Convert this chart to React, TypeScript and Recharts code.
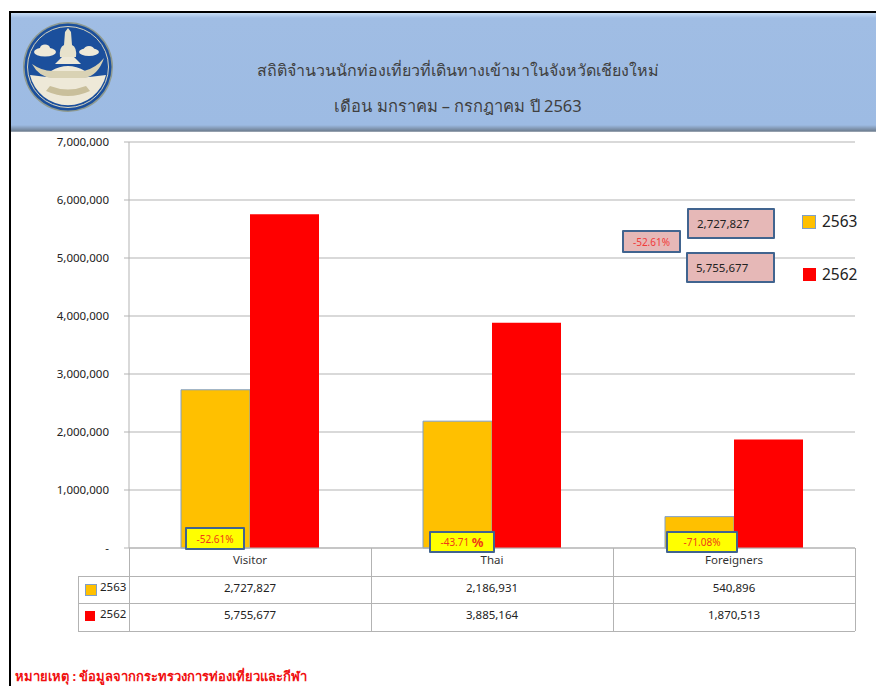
import type { CSSProperties } from 'react';
import { Bar, BarChart, CartesianGrid, XAxis, YAxis } from 'recharts';

const categories = ['Visitor', 'Thai', 'Foreigners'];
const values2563 = [2727827, 2186931, 540896];
const values2562 = [5755677, 3885164, 1870513];
const yTicks = [0, 1000000, 2000000, 3000000, 4000000, 5000000, 6000000, 7000000];
const changes = ['-52.61%', '-43.71', '-71.08%'];
const seriesNames = ['2563', '2562'];
const title = 'สถิติจำนวนนักท่องเที่ยวที่เดินทางเข้ามาในจังหวัดเชียงใหม่';
const subtitle = 'เดือน มกราคม – กรกฎาคม ปี 2563';
const footnote = 'หมายเหตุ : ข้อมูลจากกระทรวงการท่องเที่ยวและกีฬา';

const FONT = '"Noto Sans", "Open Sans", sans-serif';
const COLORS = ['#FFC000', '#FF0000'];
const LINE = '#b3b3b3';
const BOX_EDGE = '#41648f';

const chartData = categories.map((name, i) => ({
  name,
  y2563: values2563[i],
  y2562: values2562[i],
}));

const fmt = (v: number) => v.toLocaleString('en-US');

function Box(props: { x: number; y: number; w: number; h: number; bg: string; color: string; size?: number; children: React.ReactNode; align?: CSSProperties['justifyContent']; pad?: number }) {
  const { x, y, w, h, bg, color, size = 10, children, align = 'center', pad = 0 } = props;
  return (
    <div
      style={{
        position: 'absolute', left: x, top: y, width: w, height: h, boxSizing: 'border-box',
        background: bg, border: `2.5px solid ${BOX_EDGE}`, borderRadius: 1, color, fontSize: size,
        display: 'flex', alignItems: 'center', justifyContent: align, whiteSpace: 'nowrap', paddingLeft: pad,
      }}
    >
      {children}
    </div>
  );
}

function Logo() {
  return (
    <svg width={92} height={92} viewBox="0 0 92 92" style={{ position: 'absolute', left: 22, top: 21 }}>
      <circle cx={46} cy={46} r={45} fill="#8f9a8f" />
      <circle cx={46} cy={46} r={43.5} fill="#1b4f9c" />
      <circle cx={46} cy={46} r={40.5} fill="none" stroke="#d9d5bf" strokeWidth={1} />
      <path d="M84 54 Q46 60 8 54 A39 39 0 0 0 84 54 Z" fill="#eee9d8" />
      <path d="M10 43 Q17 56 30 57 L62 57 Q76 55 82 37 Q74 47 62 50 L30 50 Q20 50 10 43 Z" fill="#d9d2b4" />
      <path d="M29 50 Q46 40 63 50 Z" fill="#eee9d8" />
      <path d="M33 43 L59 43 L52 36 L40 36 Z" fill="#eee9d8" />
      <path d="M38 36 Q37 26 42 24 L43 11 L46 7 L49 11 L50 24 Q55 26 54 36 Z" fill="#e7e2cc" />
      <ellipse cx={23} cy={31} rx={11} ry={4.5} fill="#eee9d8" />
      <ellipse cx={23} cy={27} rx={5} ry={3.5} fill="#eee9d8" />
      <ellipse cx={67} cy={31} rx={10} ry={4} fill="#eee9d8" />
      <ellipse cx={67} cy={28} rx={5} ry={3} fill="#eee9d8" />
      <path d="M24 70 Q46 80 68 70 L64 65 Q46 72 28 65 Z" fill="#c9bf9b" />
    </svg>
  );
}

function DataTable() {
  const rowTops = [548, 576, 603, 631];
  const colEdges = [129, 371, 613, 855];
  const rows = [values2563, values2562];
  const line = (x: number, y: number, w: number, h: number, key: string) => (
    <div key={key} style={{ position: 'absolute', left: x, top: y, width: w, height: h, background: LINE }} />
  );
  return (
    <>
      {rowTops.slice(1).map((y) => line(78, y, 777, 1, `h${y}`))}
      {colEdges.map((x) => line(x, 548, 1, 83, `v${x}`))}
      {line(78, 576, 1, 55, 'left')}
      {rows.map((vals, r) => (
        <div key={seriesNames[r]}>
          <div style={{ position: 'absolute', left: 85, top: rowTops[r + 1] + 8, width: 10, height: 10, background: COLORS[r], border: r === 0 ? '1px solid #7f9fc9' : 'none' }} />
          <div style={{ position: 'absolute', left: 100, top: rowTops[r + 1] + 3, fontSize: 11.5, color: '#222' }}>{seriesNames[r]}</div>
          {vals.map((v, c) => (
            <div
              key={categories[c]}
              style={{ position: 'absolute', left: colEdges[c], width: colEdges[c + 1] - colEdges[c], top: rowTops[r + 1] + 4, textAlign: 'center', fontSize: 11.5, color: '#222' }}
            >
              {fmt(v)}
            </div>
          ))}
        </div>
      ))}
    </>
  );
}

export default function App() {
  return (
    <div style={{ position: 'absolute', left: 0, top: 0, width: 876, height: 686, overflow: 'hidden', background: '#fff', fontFamily: FONT }}>
      <div style={{ position: 'absolute', left: 0, top: 0 }}>
        <BarChart
          width={876}
          height={686}
          data={chartData}
          barGap={0}
          barCategoryGap={52}
          margin={{ top: 142, right: 21, bottom: 110, left: 0 }}
        >
          <CartesianGrid horizontal vertical={false} stroke={LINE} />
          <XAxis
            dataKey="name"
            height={28}
            tickLine={false}
            stroke={LINE}
            tick={{ fill: '#333', fontSize: 11.5, fontFamily: FONT }}
            tickMargin={2}
          />
          <YAxis
            width={129}
            domain={[0, 7000000]}
            ticks={yTicks}
            interval={0}
            tickSize={5}
            tickMargin={15}
            stroke={LINE}
            tickFormatter={(v: number) => (v === 0 ? '-' : fmt(v))}
            tick={{ fill: '#222', fontSize: 11.5, fontFamily: FONT }}
          />
          <Bar dataKey="y2563" fill={COLORS[0]} stroke="#7f9fc9" strokeWidth={1} isAnimationActive={false} />
          <Bar dataKey="y2562" fill={COLORS[1]} isAnimationActive={false} />
        </BarChart>
      </div>

      {/* header band */}
      <div
        style={{
          position: 'absolute', left: 11, top: 13, width: 865, height: 119,
          background: 'linear-gradient(#c9def6 0, #a0bde4 5px, #9dbbe3 112px, #6f7f92 118px, #b9c0c8 119px)',
        }}
      />
      <Logo />
      <div style={{ position: 'absolute', left: 40, width: 836, top: 58, textAlign: 'center', fontSize: 16, color: '#404040' }}>{title}</div>
      <div style={{ position: 'absolute', left: 40, width: 836, top: 93, textAlign: 'center', fontSize: 16.5, color: '#404040' }}>{subtitle}</div>

      {/* frame */}
      <div style={{ position: 'absolute', left: 9, top: 11, width: 867, height: 2, background: '#000' }} />
      <div style={{ position: 'absolute', left: 9, top: 11, width: 2, height: 675, background: '#000' }} />

      <DataTable />

      <Box x={185} y={527} w={60} h={23} bg="#FFFF00" color="#f03a17">{changes[0]}</Box>
      <Box x={429} y={531} w={66} h={22} bg="#FFFF00" color="#f03a17">
        <span>{changes[1]}&nbsp;</span>
        <b style={{ fontSize: 13 }}>%</b>
      </Box>
      <Box x={666} y={531} w={72} h={22} bg="#FFFF00" color="#f03a17">{changes[2]}</Box>

      <Box x={622} y={230} w={59} h={23} bg="#E6B8B7" color="#f03a3a">{changes[0]}</Box>
      <Box x={687} y={208} w={88} h={31} bg="#E6B8B7" color="#222" size={11.5} align="flex-start" pad={8}>{fmt(values2563[0])}</Box>
      <Box x={686} y={252} w={89} h={31} bg="#E6B8B7" color="#222" size={11.5} align="flex-start" pad={8}>{fmt(values2562[0])}</Box>

      {/* legend */}
      <div style={{ position: 'absolute', left: 802, top: 215, width: 14, height: 14, boxSizing: 'border-box', background: COLORS[0], border: '1px solid #7f9fc9' }} />
      <div style={{ position: 'absolute', left: 822, top: 210, fontSize: 15.5, color: '#222' }}>{seriesNames[0]}</div>
      <div style={{ position: 'absolute', left: 803, top: 268, width: 13, height: 13, background: COLORS[1] }} />
      <div style={{ position: 'absolute', left: 822, top: 263, fontSize: 15.5, color: '#222' }}>{seriesNames[1]}</div>

      <div style={{ position: 'absolute', left: 15, top: 666, fontSize: 13, fontWeight: 700, color: '#f01010', whiteSpace: 'nowrap' }}>{footnote}</div>
    </div>
  );
}
